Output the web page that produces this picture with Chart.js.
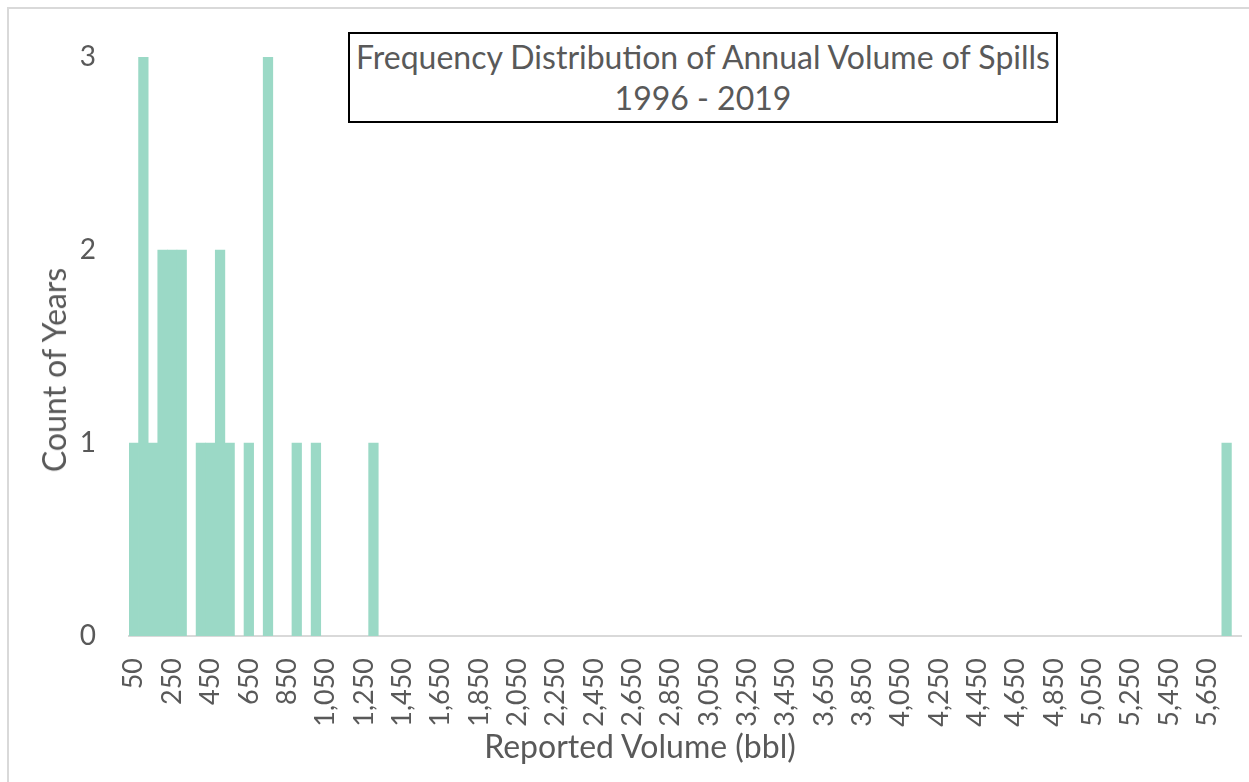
<!DOCTYPE html>
<html>
<head>
<meta charset="utf-8">
<script src="https://cdn.jsdelivr.net/npm/chart.js@4"></script>
<style>
  html, body { margin: 0; padding: 0; background: #fff; overflow: hidden; }
  #wrap { position: relative; width: 1249px; height: 782px; font-family: Lato, sans-serif; color: #595959; }
  #frame { position: absolute; left: 7px; top: 7px; width: 1300px; height: 820px; border: 2px solid #d9d9d9; box-sizing: border-box; }
  #chart { position: absolute; left: 0; top: 0; }
  #title-box {
    position: absolute; left: 348px; top: 32px; width: 710px; height: 91px;
    border: 2px solid #000; box-sizing: border-box; background: #fff;
    font-size: 32px; line-height: 41px; text-align: center; padding-top: 2px;
  }
  .axis-title { position: absolute; font-size: 32px; line-height: 36px; white-space: nowrap; }
  #x-title { left: 440px; width: 400px; top: 728px; text-align: center; }
  #y-title { left: 54px; top: 370px; transform: translate(-50%, -50%) rotate(-90deg); }
</style>
</head>
<body>
<div id="wrap">
  <div id="frame"></div>
  <canvas id="chart" width="1249" height="782"></canvas>
  <div id="title-box">Frequency Distribution of Annual Volume of Spills<br>1996 - 2019</div>
  <div id="x-title" class="axis-title">Reported Volume (bbl)</div>
  <div id="y-title" class="axis-title">Count of Years</div>
</div>
<script>
// bin centres (bbl) that hold at least one year, 50 bbl bins
const binCenters = [50, 100, 150, 200, 250, 300, 400, 450, 500, 550, 650, 750, 900, 1000, 1300, 5750];
// number of years in each of those bins
const yearCounts = [1, 3, 1, 2, 2, 2, 1, 1, 2, 1, 1, 3, 1, 1, 1, 1];
// labelled ticks on the volume axis
const xTicks = [50, 250, 450, 650, 850, 1050, 1250, 1450, 1650, 1850, 2050, 2250, 2450, 2650, 2850,
  3050, 3250, 3450, 3650, 3850, 4050, 4250, 4450, 4650, 4850, 5050, 5250, 5450, 5650];
const yTicks = [0, 1, 2, 3];

const textGray = '#595959';

function drawChart() {
  Chart.defaults.font.family = 'Lato, sans-serif';
  Chart.defaults.color = textGray;

  new Chart(document.getElementById('chart'), {
    type: 'bar',
    data: {
      datasets: [{
        data: binCenters.map((x, i) => ({ x, y: yearCounts[i] })),
        backgroundColor: '#9bd9c6',
        borderWidth: 0,
        barPercentage: 1,
        categoryPercentage: 1
      }]
    },
    options: {
      responsive: false,
      animation: false,
      layout: { padding: { top: 57, right: 8, left: 0, bottom: 0 } },
      plugins: { legend: { display: false }, tooltip: { enabled: false } },
      scales: {
        x: {
          type: 'linear',
          min: 25,
          max: 5825,
          offset: false,
          grid: { display: false, drawTicks: false },
          border: { display: true, color: '#d9d9d9', width: 2 },
          afterBuildTicks: scale => { scale.ticks = xTicks.map(v => ({ value: v })); },
          afterFit: scale => {
            scale.height = 146;
            scale.paddingLeft = 0;
            scale.paddingRight = 0;
          },
          ticks: {
            autoSkip: false,
            minRotation: 90,
            maxRotation: 90,
            padding: 22,
            font: { size: 27 },
            callback: v => v.toLocaleString('en-US')
          }
        },
        y: {
          min: 0,
          max: 3,
          grid: { display: false, drawTicks: false },
          border: { display: false },
          afterBuildTicks: scale => { scale.ticks = yTicks.map(v => ({ value: v })); },
          afterFit: scale => {
            scale.width = 129;
            scale.paddingTop = 0;
            scale.paddingBottom = 0;
          },
          ticks: { padding: 33, font: { size: 28 } }
        }
      }
    }
  });
}

if (document.fonts && document.fonts.load) {
  document.fonts.load('26px Lato').then(drawChart, drawChart);
} else {
  drawChart();
}
</script>
</body>
</html>
